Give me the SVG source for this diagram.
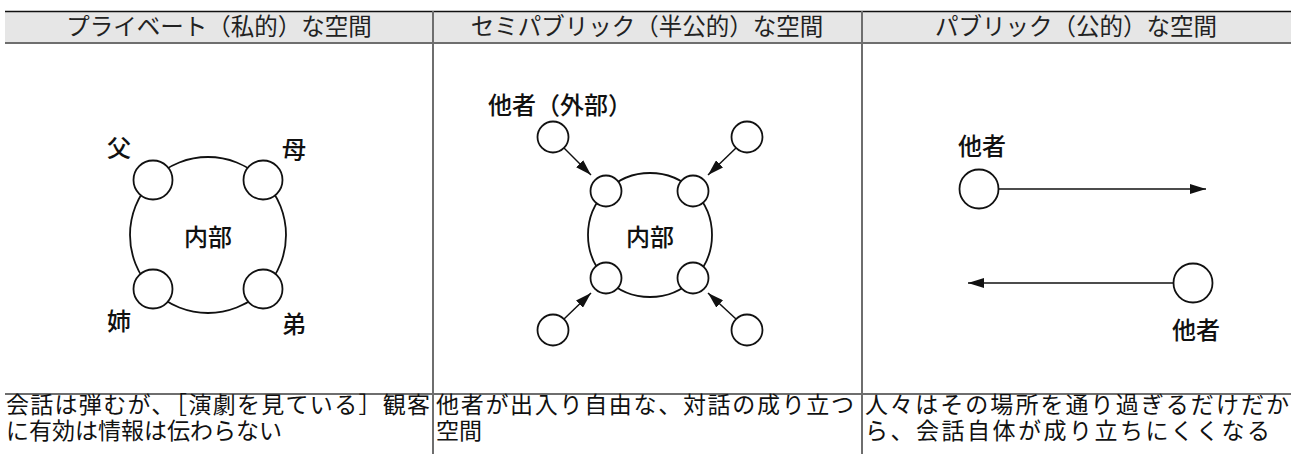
<svg xmlns="http://www.w3.org/2000/svg" width="1295" height="454" viewBox="0 0 1295 454">
<style>
.hd{font-family:"Noto Sans CJK JP","Noto Sans",sans-serif;font-size:23.5px;fill:#222;text-anchor:middle}
.ft{font-family:"Liberation Serif","Noto Sans CJK JP",serif;font-size:23px;fill:#111}
.lb{font-family:"Noto Sans CJK JP","Noto Sans",sans-serif;font-size:24px;font-weight:500;fill:#111;text-anchor:middle}
.c{fill:#fff;stroke:#111;stroke-width:1.8}
.big{fill:none;stroke:#111;stroke-width:1.8}
.ar{stroke:#111;stroke-width:1.5;fill:none;marker-end:url(#ah)}
.grid{stroke:#6e6e6e;stroke-width:2}
</style>
<defs>
<marker id="ah" viewBox="0 0 16 10" refX="16" refY="5" markerWidth="16" markerHeight="10" markerUnits="userSpaceOnUse" orient="auto">
<path d="M0,0 L16,5 L0,10 Z" fill="#111"/>
</marker>
</defs>
<g id="table">
<rect x="5" y="11" width="1286" height="32" fill="#e6e6e6"/>
<line x1="5" y1="11.5" x2="1291" y2="11.5" stroke="#111" stroke-width="1.5"/>
<line class="grid" x1="5" y1="43" x2="1291" y2="43"/>
<line class="grid" x1="5" y1="394" x2="1291" y2="394"/>
<line class="grid" x1="433" y1="11" x2="433" y2="454"/>
<line class="grid" x1="862" y1="11" x2="862" y2="454"/>
<text class="hd" x="219" y="35">プライベート（私的）な空間</text>
<text class="hd" x="647" y="35">セミパブリック（半公的）な空間</text>
<text class="hd" x="1076" y="35">パブリック（公的）な空間</text>
<text class="ft" x="6" y="413" textLength="424" lengthAdjust="spacing">会話は弾むが、［演劇を見ている］観客</text>
<text class="ft" x="6" y="439">に有効は情報は伝わらない</text>
<text class="ft" x="436" y="413" textLength="418" lengthAdjust="spacing">他者が出入り自由な、対話の成り立つ</text>
<text class="ft" x="436" y="439">空間</text>
<text class="ft" x="865" y="413" textLength="424" lengthAdjust="spacing">人々はその場所を通り過ぎるだけだか</text>
<text class="ft" x="865" y="439" textLength="405" lengthAdjust="spacing">ら、会話自体が成り立ちにくくなる</text>
</g>
<g id="private">
<circle class="big" cx="208" cy="235" r="78"/>
<circle class="c" cx="153" cy="180" r="19.5"/>
<circle class="c" cx="263" cy="180" r="19.5"/>
<circle class="c" cx="153" cy="289" r="19.5"/>
<circle class="c" cx="263" cy="289" r="19.5"/>
<text class="lb" x="208" y="246">内部</text>
<text class="lb" x="119" y="157">父</text>
<text class="lb" x="294" y="158">母</text>
<text class="lb" x="119" y="330">姉</text>
<text class="lb" x="294" y="333">弟</text>
</g>
<g id="semipublic">
<circle class="big" cx="650" cy="235" r="62"/>
<circle class="c" cx="606" cy="191" r="15.5"/>
<circle class="c" cx="693" cy="191" r="15.5"/>
<circle class="c" cx="606" cy="278" r="15.5"/>
<circle class="c" cx="693" cy="278" r="15.5"/>
<circle class="c" cx="553" cy="137" r="15.5"/>
<circle class="c" cx="747" cy="137" r="15.5"/>
<circle class="c" cx="553" cy="330" r="15.5"/>
<circle class="c" cx="747" cy="330" r="15.5"/>
<text class="lb" x="650" y="246">内部</text>
<text class="lb" x="560" y="114">他者（外部）</text>
</g>
<g id="public">
<circle class="c" cx="979" cy="189" r="19.5"/>
<circle class="c" cx="1193" cy="283" r="19.5"/>
<text class="lb" x="982" y="155">他者</text>
<text class="lb" x="1196" y="339">他者</text>
</g>
<g id="connectors">
<line class="ar" x1="564" y1="148" x2="591" y2="175"/>
<line class="ar" x1="736" y1="148" x2="708" y2="175"/>
<line class="ar" x1="564" y1="319" x2="591" y2="293"/>
<line class="ar" x1="736" y1="319" x2="708" y2="293"/>
<line class="ar" x1="998.5" y1="189" x2="1206" y2="189"/>
<line class="ar" x1="1173.5" y1="283" x2="968" y2="283"/>
</g>
</svg>
